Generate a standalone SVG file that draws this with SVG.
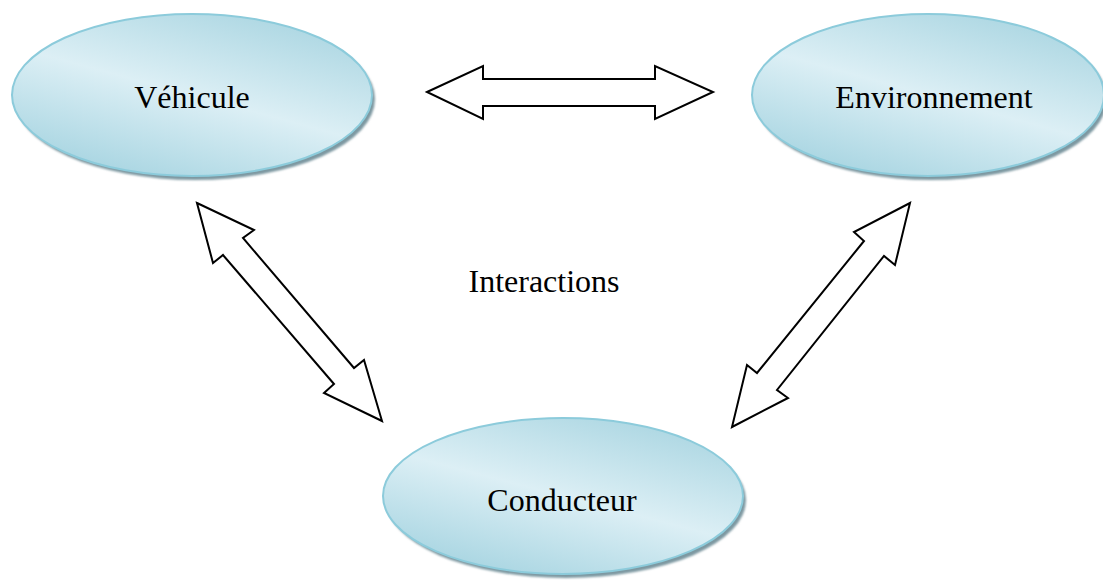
<svg xmlns="http://www.w3.org/2000/svg" width="1103" height="580" viewBox="0 0 1103 580">
  <defs>
    <linearGradient id="g" x1="0.2" y1="1" x2="0.8" y2="0">
      <stop offset="0" stop-color="#a4d3e0"/>
      <stop offset="0.5" stop-color="#dcEFF5"/>
      <stop offset="1" stop-color="#a9d5e1"/>
    </linearGradient>
    <filter id="blur" x="-10%" y="-10%" width="120%" height="130%">
      <feGaussianBlur stdDeviation="1.2"/>
    </filter>
  </defs>
  <style>
    .shadow { fill: #7d98a1; filter: url(#blur); }
    .node { fill: url(#g); stroke: #8ccbdb; stroke-width: 2; }
    .label { font-family: "Liberation Serif", "Times New Roman", serif; font-size: 32px; fill: #000; text-anchor: middle; }
    .arrow { fill: #fff; stroke: #000; stroke-width: 2; stroke-linejoin: miter; }
  </style>
  <rect width="1103" height="580" fill="#fff"/>

  <g id="connectors">
    <polygon class="arrow" points="427,92 483,66 483,79 655,79 655,66 713,92 655,119 655,106 483,106 483,119"/>
    <polygon class="arrow" points="197,203 254,230 243,238 354,368 364,360 382,421 324,393 334,384 223,255 213,263"/>
    <polygon class="arrow" points="910,203 854,232 864,241 757,373 747,365 732,427 788,398 777,390 884,256 895,265"/>
  </g>

  <g id="vehicule">
    <ellipse class="shadow" cx="195" cy="99" rx="180" ry="81"/>
    <ellipse class="node" cx="192" cy="95" rx="180" ry="81"/>
    <text class="label" x="192" y="108">Véhicule</text>
  </g>

  <g id="environnement">
    <ellipse class="shadow" cx="931" cy="99" rx="176" ry="81"/>
    <ellipse class="node" cx="928" cy="95" rx="176" ry="81"/>
    <text class="label" x="934" y="108">Environnement</text>
  </g>

  <g id="conducteur">
    <ellipse class="shadow" cx="566" cy="500" rx="180" ry="78"/>
    <ellipse class="node" cx="563" cy="496" rx="180" ry="78"/>
    <text class="label" x="562" y="511">Conducteur</text>
  </g>

  <g id="interactions">
    <text class="label" x="544" y="292">Interactions</text>
  </g>
</svg>
